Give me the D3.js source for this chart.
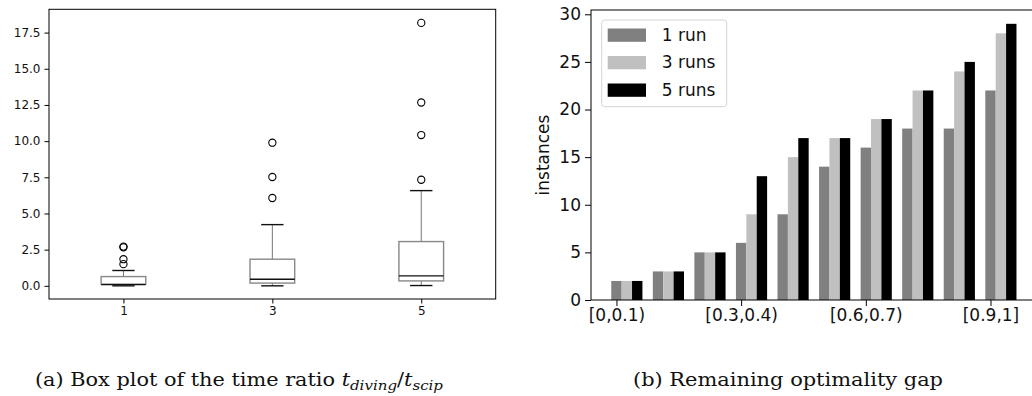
<!DOCTYPE html>
<html>
<head>
<meta charset="utf-8">
<script src="https://cdn.jsdelivr.net/npm/d3@7"></script>
<style>
  body { margin: 0; background: #fff; }
  svg { display: block; }
</style>
</head>
<body>
<div id="chart"></div>
<script>
// ---- data: box plot (time ratio) ----
const boxGroups = ["1", "3", "5"];
const boxQ1 = [0.12, 0.19, 0.34];
const boxMedian = [0.08, 0.46, 0.69];
const boxQ3 = [0.64, 1.84, 3.06];
const whiskerLow = [0.0, 0.0, 0.02];
const whiskerHigh = [1.06, 4.23, 6.58];
const boxOutliers = [
  [1.5, 1.84, 2.66, 2.71],
  [6.07, 7.52, 9.89],
  [7.33, 10.42, 12.67, 18.17]
];
const boxTicks = [0.0, 2.5, 5.0, 7.5, 10.0, 12.5, 15.0, 17.5];

// ---- data: remaining optimality gap ----
const gapBins = ["[0,0.1)", "[0.1,0.2)", "[0.2,0.3)", "[0.3,0.4)", "[0.4,0.5)",
  "[0.5,0.6)", "[0.6,0.7)", "[0.7,0.8)", "[0.8,0.9)", "[0.9,1]"];
const seriesNames = ["1 run", "3 runs", "5 runs"];
const run1 = [2, 3, 5, 6, 9, 14, 16, 18, 18, 22];
const run3 = [2, 3, 5, 9, 15, 17, 19, 22, 24, 28];
const run5 = [2, 3, 5, 13, 17, 17, 19, 22, 25, 29];
const gapTicks = [0, 5, 10, 15, 20, 25, 30];
const gapLabelIdx = [0, 3, 6, 9];

const W = 1032, H = 396;
const svg = d3.select("#chart").append("svg")
  .attr("width", W).attr("height", H)
  .style("font-family", "DejaVu Sans");

// =================== (a) box plot ===================
const a = { left: 49, right: 495.7, top: 9.3, bottom: 299 };
const xa = d3.scalePoint().domain(boxGroups).range([a.left, a.right]).padding(0.5);
const ya = d3.scaleLinear().domain([-0.91, 19.11]).range([a.bottom, a.top]);
const boxW = xa.step() * 0.3;

const gA = svg.append("g");
gA.append("g")
  .attr("transform", `translate(${a.left},0)`)
  .call(d3.axisLeft(ya).tickValues(boxTicks).tickFormat(d3.format(".1f")).tickSizeOuter(0).tickSize(4.5).tickPadding(4))
  .call(g => g.select(".domain").remove())
  .call(g => g.selectAll("text").style("font-size", "12px").attr("fill", "#111").style("font-family", "DejaVu Sans"));
gA.append("g")
  .attr("transform", `translate(0,${a.bottom})`)
  .call(d3.axisBottom(xa).tickSizeOuter(0).tickSize(4.5).tickPadding(3))
  .call(g => g.select(".domain").remove())
  .call(g => g.selectAll("text").style("font-size", "12px").attr("fill", "#111").style("font-family", "DejaVu Sans"));

const boxes = gA.selectAll(".box").data(boxGroups).join("g").attr("class", "box");
// whiskers
boxes.append("line")
  .attr("x1", d => xa(d)).attr("x2", d => xa(d))
  .attr("y1", (d, i) => ya(boxQ3[i])).attr("y2", (d, i) => ya(whiskerHigh[i]))
  .attr("stroke", "#777").attr("stroke-width", 1);
boxes.append("line")
  .attr("x1", d => xa(d)).attr("x2", d => xa(d))
  .attr("y1", (d, i) => ya(boxQ1[i])).attr("y2", (d, i) => ya(whiskerLow[i]))
  .attr("stroke", "#777").attr("stroke-width", 1);
// caps
[whiskerHigh, whiskerLow].forEach(arr => {
  boxes.append("line")
    .attr("x1", d => xa(d) - boxW / 4).attr("x2", d => xa(d) + boxW / 4)
    .attr("y1", (d, i) => ya(arr[i])).attr("y2", (d, i) => ya(arr[i]))
    .attr("stroke", "#111").attr("stroke-width", 1.4);
});
// box
boxes.append("rect")
  .attr("x", d => xa(d) - boxW / 2)
  .attr("y", (d, i) => ya(boxQ3[i]))
  .attr("width", boxW)
  .attr("height", (d, i) => ya(boxQ1[i]) - ya(boxQ3[i]))
  .attr("fill", "none").attr("stroke", "#888").attr("stroke-width", 1.4);
// median
boxes.append("line")
  .attr("x1", d => xa(d) - boxW / 2).attr("x2", d => xa(d) + boxW / 2)
  .attr("y1", (d, i) => ya(boxMedian[i])).attr("y2", (d, i) => ya(boxMedian[i]))
  .attr("stroke", "#111").attr("stroke-width", 1.4);
// outliers
boxes.each(function (d, i) {
  d3.select(this).selectAll("circle").data(boxOutliers[i]).join("circle")
    .attr("cx", xa(d)).attr("cy", v => ya(v)).attr("r", 3.6)
    .attr("fill", "none").attr("stroke", "#000").attr("stroke-width", 1.1);
});
// frame
gA.append("rect")
  .attr("x", a.left).attr("y", a.top)
  .attr("width", a.right - a.left).attr("height", a.bottom - a.top)
  .attr("fill", "none").attr("stroke", "#000").attr("stroke-width", 1);

// =================== (b) bar chart ===================
const b = { left: 591, top: 10, bottom: 300 };
const pxPerCat = 41.56;
const xb = d3.scaleLinear().domain([-0.6125, 10.1125])
  .range([b.left, b.left + 10.725 * pxPerCat]);
const yb = d3.scaleLinear().domain([0, 30.45]).range([b.bottom, b.top]);
const barColor = d3.scaleOrdinal().domain(seriesNames).range(["#808080", "#c0c0c0", "#000000"]);
const seriesVals = [run1, run3, run5];
const barW = 0.25;

const gB = svg.append("g");
seriesNames.forEach((name, s) => {
  gB.append("g").attr("fill", barColor(name))
    .selectAll("rect").data(seriesVals[s]).join("rect")
    .attr("x", (v, i) => xb(i + s * barW - barW / 2))
    .attr("width", (v, i) => xb(i + s * barW + barW / 2) - xb(i + s * barW - barW / 2))
    .attr("y", v => yb(v))
    .attr("height", v => yb(0) - yb(v));
});

gB.append("g")
  .attr("transform", `translate(${b.left},0)`)
  .call(d3.axisLeft(yb).tickValues(gapTicks).tickSizeOuter(0).tickSize(6).tickPadding(4))
  .call(g => g.select(".domain").remove())
  .call(g => g.selectAll("text").style("font-size", "17px").attr("fill", "#111").style("font-family", "DejaVu Sans"));
gB.append("g")
  .attr("transform", `translate(0,${b.bottom})`)
  .call(d3.axisBottom(xb).tickValues(gapLabelIdx).tickFormat(i => gapBins[i]).tickSizeOuter(0).tickSize(6).tickPadding(3))
  .call(g => g.select(".domain").remove())
  .call(g => g.selectAll("text").style("font-size", "17px").attr("fill", "#111").style("font-family", "DejaVu Sans"));

// spines (right spine falls outside the picture)
gB.append("rect")
  .attr("x", b.left).attr("y", b.top)
  .attr("width", xb.range()[1] - b.left).attr("height", b.bottom - b.top)
  .attr("fill", "none").attr("stroke", "#000").attr("stroke-width", 1);

gB.append("text")
  .attr("transform", `translate(549,155) rotate(-90)`)
  .attr("text-anchor", "middle")
  .style("font-size", "17px").attr("fill", "#111")
  .text("instances");

// legend
const lg = gB.append("g").attr("transform", "translate(601.7,20)");
lg.append("rect").attr("width", 125).attr("height", 86.7).attr("rx", 3)
  .attr("fill", "#fff").attr("fill-opacity", 0.8).attr("stroke", "#d6d6d6");
seriesNames.forEach((name, s) => {
  lg.append("rect").attr("x", 6).attr("y", 8.5 + s * 27.5).attr("width", 38.3).attr("height", 13.3)
    .attr("fill", barColor(name));
  lg.append("text").attr("x", 60).attr("y", 15 + s * 27.5).attr("dy", "0.35em")
    .style("font-size", "17px").attr("fill", "#111").text(name);
});

// =================== captions ===================
const capFont = "DejaVu Serif";
const capA = svg.append("text").attr("x", 35).attr("y", 386)
  .attr("textLength", 408).attr("lengthAdjust", "spacingAndGlyphs")
  .style("font-family", capFont).style("font-size", "18px").attr("fill", "#111");
capA.append("tspan").text("(a) Box plot of the time ratio ");
capA.append("tspan").style("font-style", "italic").text("t");
capA.append("tspan").style("font-style", "italic").style("font-size", "13px").attr("dy", 4).text("diving");
capA.append("tspan").attr("dy", -4).text("/");
capA.append("tspan").style("font-style", "italic").text("t");
capA.append("tspan").style("font-style", "italic").style("font-size", "13px").attr("dy", 4).text("scip");

svg.append("text").attr("x", 633).attr("y", 386)
  .attr("textLength", 310).attr("lengthAdjust", "spacingAndGlyphs")
  .style("font-family", capFont).style("font-size", "18px").attr("fill", "#111")
  .text("(b) Remaining optimality gap");
</script>
</body>
</html>
